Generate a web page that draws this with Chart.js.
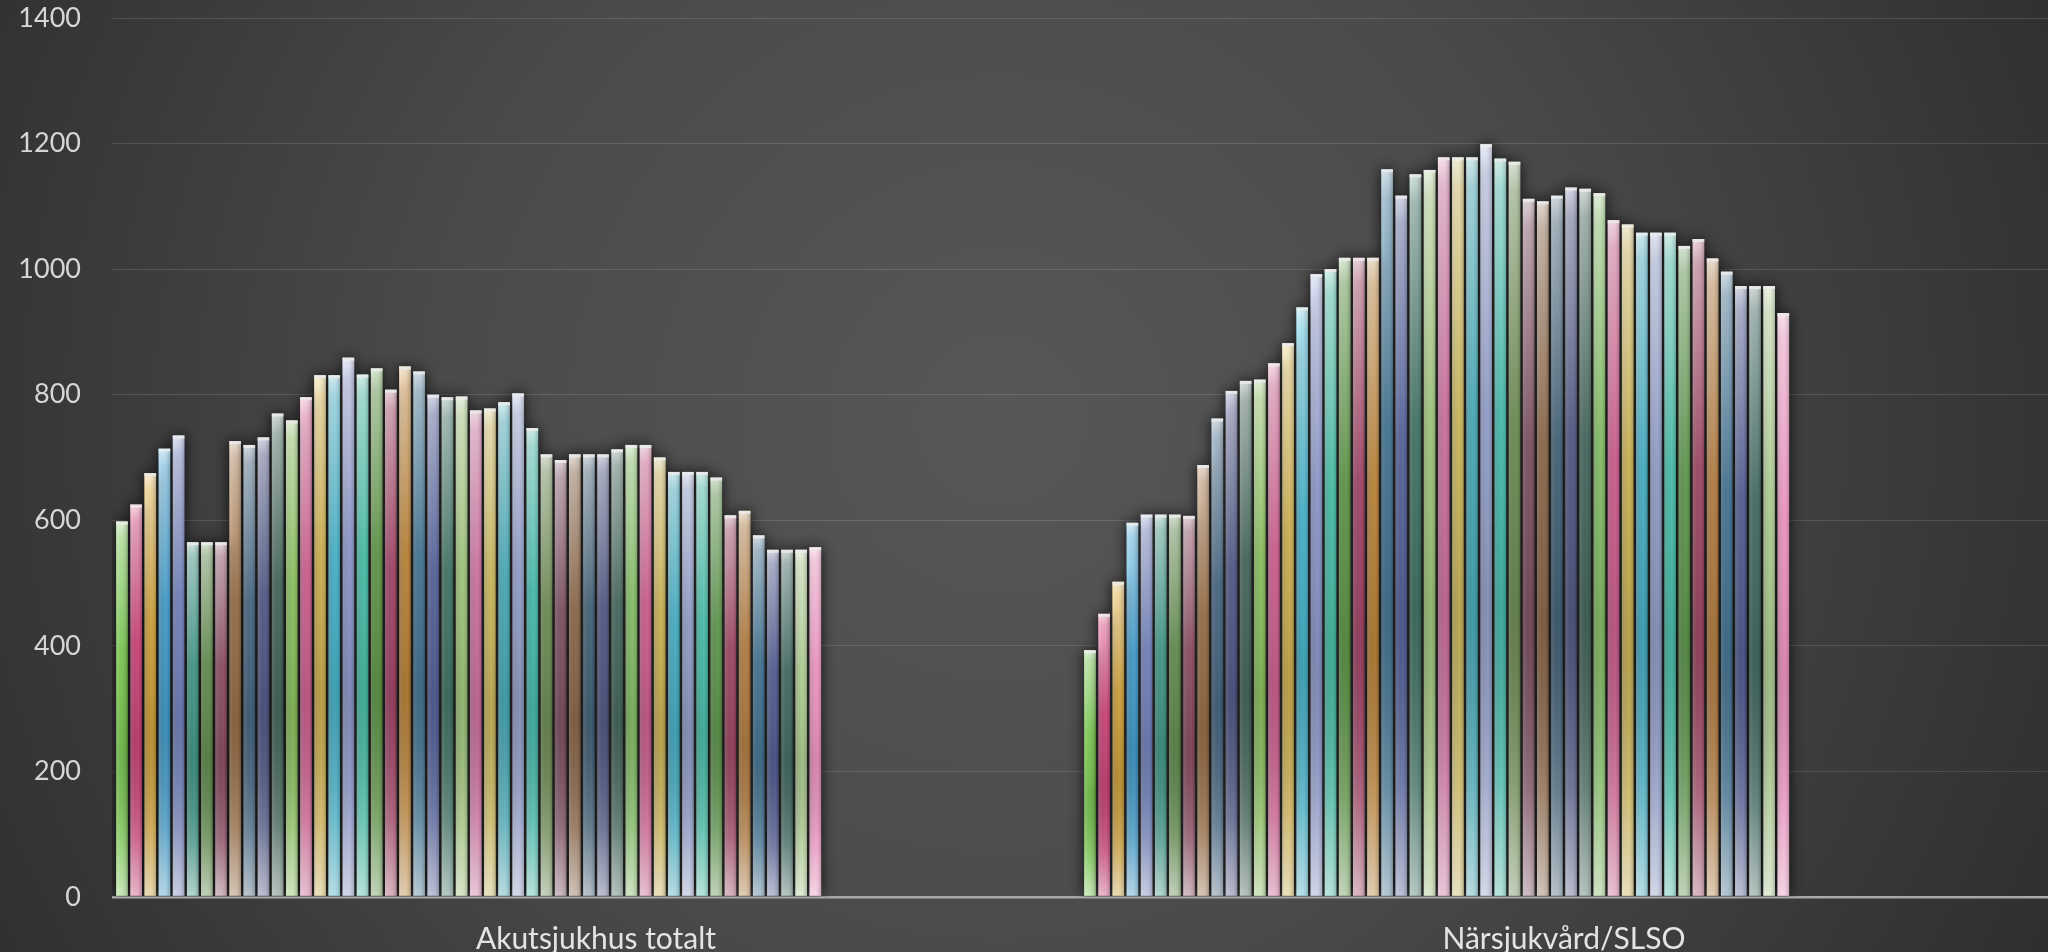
<!DOCTYPE html>
<html>

<head>
    <title>Akutsjukhus / Närsjukvård</title>
    <meta charset="utf-8">
    <style>
        html, body {
            margin: 0;
            padding: 0;
            background: #3a3a3a;
        }

        #wrap {
            width: 2048px;
            height: 952px;
            position: relative;
        }
    </style>
    <script src="https://cdn.jsdelivr.net/npm/chart.js"></script>
</head>

<body>
    <div id="wrap">
        <canvas id="barChart"></canvas>
    </div>

    <script>
        // data
        var categories = ['Akutsjukhus totalt', 'Närsjukvård/SLSO'];
        var akutsjukhus = [598, 625, 675, 714, 735, 565, 565, 565, 726, 720, 732, 770, 759, 796, 831, 831, 859, 832, 842, 808,
            845, 837, 800, 796, 797, 775, 778, 788, 802, 747, 705, 696, 705, 705, 705, 713, 720, 720, 700, 677,
            677, 677, 668, 608, 615, 576, 553, 553, 553, 557];
        var narsjukvard = [393, 451, 502, 596, 609, 609, 609, 607, 688, 762, 806, 822, 824, 850, 882, 939, 992, 1000, 1018, 1018,
            1018, 1159, 1117, 1151, 1158, 1178, 1178, 1178, 1199, 1176, 1171, 1112, 1108, 1117, 1130, 1128, 1121, 1078, 1071, 1058,
            1058, 1058, 1037, 1048, 1017, 996, 973, 973, 973, 930];
        var emptySeries = 18; // series slots with no values yet
        var yTicks = [0, 200, 400, 600, 800, 1000, 1200, 1400];

        var palette = [
            '#6fbf45', '#d63c78', '#d9a632', '#3a9fd4', '#7183c4', '#3a9b8a', '#5f8f48', '#8f4861', '#9b6a3c', '#3f6484',
            '#4c5488', '#3d6357', '#8dca5a', '#d95c93', '#dab84a', '#3fb9d3', '#8d9bd4', '#41c7ad', '#5b9a40', '#a83d65',
            '#c4842f', '#3b7597', '#505fa0', '#3a7363', '#a6d17c', '#d96fa5', '#d8c25a', '#41b1c0', '#97a5d6', '#3fc4b3',
            '#6b8f4e', '#7e4a5e', '#8e6442', '#3c5f78', '#4b5486', '#3e645a', '#86c864', '#d85a90', '#d6bb50', '#3fb5cd',
            '#93a2d4', '#42c7b0', '#5a9a47', '#a4405f', '#bb7d3a', '#3c7396', '#4c5a96', '#3c6a60', '#b8da98', '#ff99cc'
        ];

        var datasets = [];
        for (var i = 0; i < akutsjukhus.length; i++) {
            datasets.push({
                label: 'Serie ' + (i + 1),
                data: [akutsjukhus[i], narsjukvard[i]],
                backgroundColor: palette[i % palette.length]
            });
        }
        for (var k = 0; k < emptySeries; k++) {
            datasets.push({ label: '', data: [null, null], backgroundColor: 'rgba(0,0,0,0)' });
        }

        // background, bar shadows and the glossy overlay on every bar
        var barStyle = {
            id: 'barStyle',
            beforeDraw: function (chart) {
                var c = chart.ctx;
                var g = c.createRadialGradient(1000, 420, 0, 1000, 420, 1250);
                g.addColorStop(0, '#575757');
                g.addColorStop(0.45, '#4a4a4a');
                g.addColorStop(0.8, '#363636');
                g.addColorStop(1, '#2b2b2b');
                c.save();
                c.fillStyle = g;
                c.fillRect(0, 0, chart.width, chart.height);
                c.restore();
            },
            beforeDatasetsDraw: function (chart) {
                var c = chart.ctx;
                c.save();
                c.shadowColor = 'rgba(0,0,0,0.85)';
                c.shadowBlur = 14;
            },
            afterDatasetsDraw: function (chart) {
                var c = chart.ctx;
                c.restore();
                c.save();
                chart.data.datasets.forEach(function (ds, di) {
                    var meta = chart.getDatasetMeta(di);
                    meta.data.forEach(function (bar, j) {
                        if (ds.data[j] == null) return;
                        var p = bar.getProps(['x', 'y', 'base', 'width'], true);
                        var left = p.x - p.width / 2;
                        var h = p.base - p.y;
                        var v = c.createLinearGradient(0, p.y, 0, p.base);
                        v.addColorStop(0, 'rgba(255,255,255,0.75)');
                        v.addColorStop(0.04, 'rgba(255,255,255,0.5)');
                        v.addColorStop(0.35, 'rgba(255,255,255,0.05)');
                        v.addColorStop(0.6, 'rgba(0,0,0,0.08)');
                        v.addColorStop(0.85, 'rgba(255,255,255,0.2)');
                        v.addColorStop(1, 'rgba(255,255,255,0.6)');
                        c.fillStyle = v;
                        c.fillRect(left, p.y, p.width, h);
                        var hz = c.createLinearGradient(left, 0, left + p.width, 0);
                        hz.addColorStop(0, 'rgba(255,255,255,0.22)');
                        hz.addColorStop(0.45, 'rgba(255,255,255,0.05)');
                        hz.addColorStop(1, 'rgba(0,0,0,0.22)');
                        c.fillStyle = hz;
                        c.fillRect(left, p.y, p.width, h);
                        c.fillStyle = 'rgba(235,235,235,0.85)';
                        c.fillRect(left, p.y, p.width, 3);
                    });
                });
                c.restore();
            }
        };

        var ctx = document.getElementById('barChart').getContext('2d');
        var barChart = new Chart(ctx, {
            type: 'bar',
            data: {
                labels: categories,
                datasets: datasets
            },
            options: {
                responsive: true,
                maintainAspectRatio: false,
                animation: false,
                layout: {
                    padding: { top: 18, right: 0, bottom: 0, left: 0 }
                },
                datasets: {
                    bar: {
                        categoryPercentage: 0.994,
                        barPercentage: 0.82
                    }
                },
                plugins: {
                    legend: { display: false },
                    tooltip: { enabled: false }
                },
                scales: {
                    x: {
                        grid: { display: false },
                        border: { display: false },
                        ticks: {
                            color: '#e4e4e4',
                            font: { family: 'Lato', size: 30 },
                            padding: 16
                        },
                        afterFit: function (s) { s.height = 55; }
                    },
                    y: {
                        min: 0,
                        max: 1400,
                        afterBuildTicks: function (s) {
                            s.ticks = yTicks.map(function (t) { return { value: t }; });
                        },
                        border: { display: false },
                        grid: {
                            drawTicks: false,
                            color: function (c) { return c.tick && c.tick.value === 0 ? '#a8a8a8' : 'rgba(255,255,255,0.13)'; },
                            lineWidth: function (c) { return c.tick && c.tick.value === 0 ? 2.5 : 1; }
                        },
                        ticks: {
                            color: '#d6d6d6',
                            font: { family: 'Lato', size: 27 },
                            padding: 31,
                            callback: function (v) { return String(v); }
                        },
                        afterFit: function (s) {
                            s.width = 112;
                            s.paddingTop = 0;
                            s.paddingBottom = 0;
                        }
                    }
                }
            },
            plugins: [barStyle]
        });
    </script>
</body>

</html>
